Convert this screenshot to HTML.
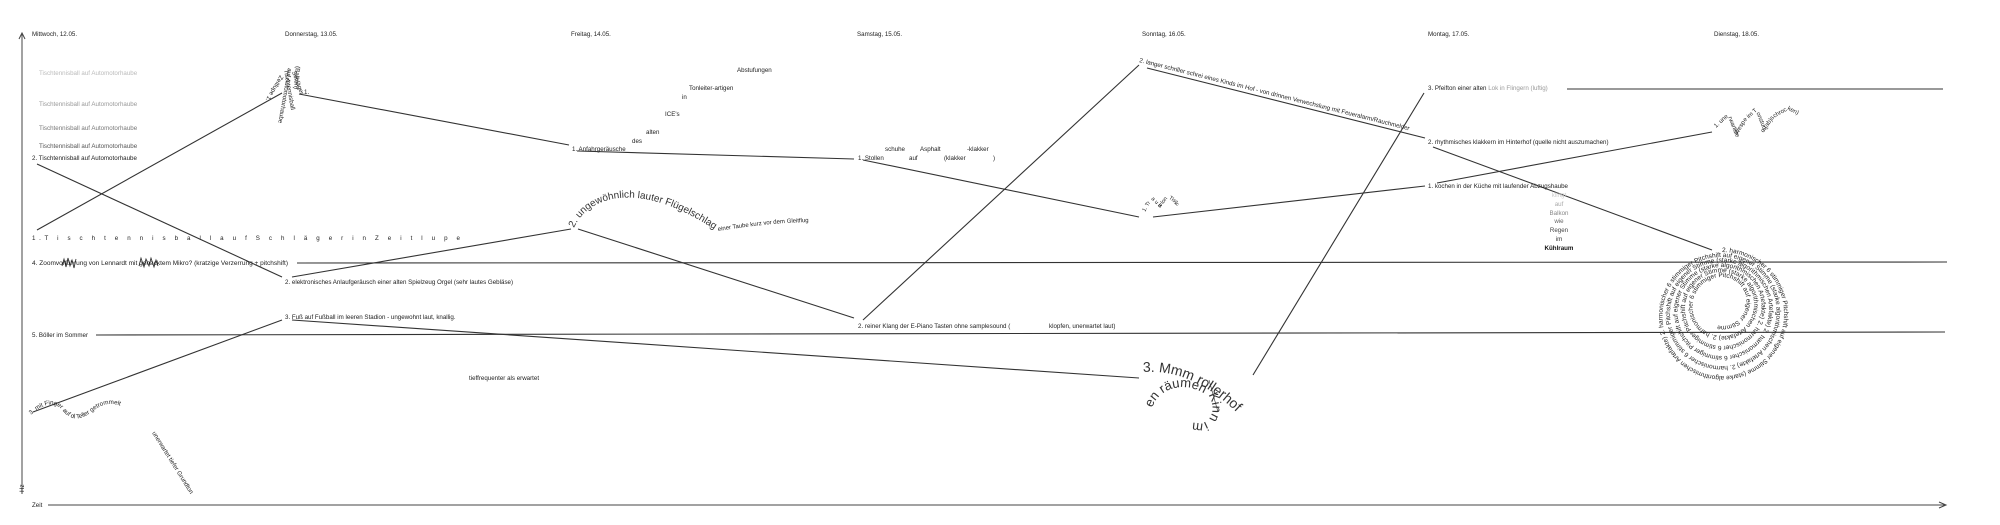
<!DOCTYPE html>
<html><head><meta charset="utf-8"><style>
html,body{margin:0;padding:0;background:#fff;}
svg{display:block;font-family:"Liberation Sans",sans-serif;}
text{font-size:6.2px;fill:#222;}
</style></head><body>
<svg width="2000" height="525" viewBox="0 0 2000 525" xmlns="http://www.w3.org/2000/svg">
<defs>
<path id="flug" d="M574,228 C588,196 640,178 718,232"/>
<path id="taube" d="M718,231 C750,226 780,222 818,222"/>
<path id="wespe" d="M1716,128 L1728,117 L1736,137 L1746,121 L1756,112 L1764,132 L1774,118 L1788,110 L1800,116 L1812,108 L1822,106"/>
<path id="tr" d="M1145,212 L1152,200 L1160,208 L1168,198 L1178,205 L1186,196 L1196,201 L1206,192"/>
<path id="mmm1" d="M1143,372 C1180,370 1215,385 1255,432"/>
<path id="mmm2" d="M1152,408 C1160,385 1190,380 1210,398 C1218,415 1205,430 1190,420"/>
<path id="finger" d="M31,415 C45,402 55,402 62,410 C72,422 80,420 92,412 C105,400 120,402 134,414"/>
<path id="spiral" d="M1722,252 A62,62 0 0 1 1722,376 A59.5,59.5 0 0 1 1722,257 A54.5,54.5 0 0 1 1722,366 A52,52 0 0 1 1722,262 A47,47 0 0 1 1722,356 A44.5,44.5 0 0 1 1722,267 A39.5,39.5 0 0 1 1722,346 A37,37 0 0 1 1722,272 A32,32 0 0 1 1722,336 A29.5,29.5 0 0 1 1722,277 A24.5,24.5 0 0 1 1722,326 A22,22 0 0 1 1722,282 A17,17 0 0 1 1722,316"/>
</defs>

<g stroke="#444" stroke-width="1" fill="none">
<line x1="22" y1="34" x2="22" y2="494"/>
<polyline points="19,39 22,33 25,39"/>
<line x1="48" y1="505" x2="1945" y2="505"/>
<polyline points="1939,502 1946,505 1939,508"/>
</g>
<text x="24" y="492" transform="rotate(-90 24 492)">Hz</text>
<text x="32" y="507">Zeit</text>

<text x="32" y="36">Mittwoch, 12.05.</text>
<text x="285" y="36">Donnerstag, 13.05.</text>
<text x="571" y="36">Freitag, 14.05.</text>
<text x="857" y="36">Samstag, 15.05.</text>
<text x="1142" y="36">Sonntag, 16.05.</text>
<text x="1428" y="36">Montag, 17.05.</text>
<text x="1714" y="36">Dienstag, 18.05.</text>

<text x="39" y="75" style="fill:#bbb">Tischtennisball auf Automotorhaube</text>
<text x="39" y="106" style="fill:#999">Tischtennisball auf Automotorhaube</text>
<text x="39" y="130" style="fill:#777">Tischtennisball auf Automotorhaube</text>
<text x="39" y="148" style="fill:#555">Tischtennisball auf Automotorhaube</text>
<text x="32" y="160">2. Tischtennisball auf Automotorhaube</text>
<text x="32" y="240" textLength="428" lengthAdjust="spacing">1.T i s c h t e n n i s b a l l       a u f   S c h l ä g e r   i n   Z e i t l u p e</text>
<text x="32" y="265" textLength="256" lengthAdjust="spacingAndGlyphs">4. Zoomvorführung von Lennardt mit gehacktem Mikro? (kratzige Verzerrung + pitchshift)</text>
<text x="32" y="337">5. Böller im Sommer</text>

<g stroke="#222" stroke-width="0.8" fill="none">
<polyline points="62,266 64,259 66,267 68,258 70,266 72,260 74,268 76,259"/>
<polyline points="139,266 141,258 144,267 146,259 149,266 151,258 154,267 156,260 158,266"/>
</g>

<g font-size="5.5">
<text x="284" y="70" transform="rotate(80 284 70)">Tischtennisball</text>
<text x="288" y="68" transform="rotate(100 288 68)">auf Automotorhaube</text>
<text x="292" y="72" transform="rotate(70 292 72)">Schläger</text>
<text x="280" y="75" transform="rotate(120 280 75)">Zeitlupe 1.</text>
<text x="296" y="66" transform="rotate(95 296 66)">(Balkon)</text>
<text x="304" y="94">1.</text>
</g>

<g stroke="#333" stroke-width="1.1" fill="none">
<line x1="37" y1="230" x2="282" y2="93"/>
<line x1="299" y1="94" x2="569" y2="145"/>
<line x1="37" y1="164" x2="282" y2="277"/>
<line x1="292" y1="277" x2="571" y2="229"/>
<line x1="578" y1="229" x2="854" y2="318"/>
<line x1="577" y1="151" x2="854" y2="159"/>
<line x1="863" y1="160" x2="1139" y2="217"/>
<line x1="863" y1="320" x2="1139" y2="65"/>
<line x1="1147" y1="68" x2="1425" y2="138"/>
<line x1="1153" y1="217" x2="1425" y2="186"/>
<line x1="1437" y1="183" x2="1712" y2="132"/>
<line x1="1433" y1="147" x2="1712" y2="250"/>
<line x1="1424" y1="93" x2="1253" y2="375"/>
<line x1="1567" y1="89" x2="1943" y2="89"/>
<line x1="297" y1="263" x2="1947" y2="262"/>
<line x1="96" y1="335" x2="1945" y2="332"/>
<line x1="292" y1="320" x2="1139" y2="378"/>
<line x1="282" y1="320" x2="33" y2="412"/>
</g>

<text x="285" y="284">2. elektronisches Anlaufgeräusch einer alten Spielzeug Orgel (sehr lautes Gebläse)</text>
<text x="285" y="319">3. Fuß auf Fußball im leeren Stadion - ungewohnt laut, knallig.</text>
<text font-size="6"><textPath href="#finger">3. mit Finger auf di Teller getrommelt</textPath></text>
<text x="152" y="433" transform="rotate(58 152 433)">unerwartet tiefer Grundton</text>
<text x="469" y="380">tieffrequenter als erwartet</text>

<text x="737" y="72">Abstufungen</text>
<text x="689" y="90">Tonleiter-artigen</text>
<text x="682" y="99">in</text>
<text x="665" y="116">ICE's</text>
<text x="646" y="134">alten</text>
<text x="632" y="143">des</text>
<text x="572" y="151">1. Anfahrgeräusche</text>
<text style="font-size:10px;fill:#333"><textPath href="#flug">2. ungewöhnlich lauter Flügelschlag</textPath></text>
<text style="font-size:6px"><textPath href="#taube">einer Taube kurz vor dem Gleitflug</textPath></text>

<text x="885" y="151">schuhe</text>
<text x="920" y="151">Asphalt</text>
<text x="967" y="151">-klakker</text>
<text x="858" y="160">1. Stollen</text>
<text x="909" y="160">auf</text>
<text x="944" y="160">(klakker</text>
<text x="993" y="160">)</text>
<text x="858" y="328">2. reiner Klang der E-Piano Tasten ohne samplesound (</text>
<text x="1049" y="328">klopfen, unerwartet laut)</text>

<text x="1139" y="62" transform="rotate(14.2 1139 62)">2. langer schriller schrei eines Kinds im Hof - von drinnen Verwechslung mit Feueralarm/Rauchmelder</text>
<text style="font-size:5.5px"><textPath href="#tr">1. Tr a u Ba lon Tisch</textPath></text>
<text style="font-size:14px;fill:#333"><textPath href="#mmm1">3. Mmm rollerhof</textPath></text>
<text style="font-size:13px;fill:#333"><textPath href="#mmm2">en räumen Kinn im</textPath></text>
<line x1="1209" y1="380" x2="1218" y2="412" stroke="#333" stroke-width="0.6"/>

<text x="1428" y="90">3. Pfeifton einer alten <tspan style="fill:#999">Lok in Flingern (luftig)</tspan></text>
<text x="1428" y="144">2. rhythmisches klakkern im Hinterhof (quelle nicht auszumachen)</text>
<text x="1428" y="188">1. kochen in der Küche mit laufender Abzugshaube</text>
<g text-anchor="middle">
<text x="1559" y="197" style="fill:#ccc">klingt</text>
<text x="1559" y="206" style="fill:#aaa">auf</text>
<text x="1559" y="215" style="fill:#888">Balkon</text>
<text x="1559" y="223" style="fill:#666">wie</text>
<text x="1559" y="232" style="fill:#444">Regen</text>
<text x="1559" y="241" style="fill:#333">im</text>
<text x="1559" y="250" style="fill:#111;font-weight:bold">Kühlraum</text>
</g>

<text style="font-size:6px"><textPath href="#wespe">1. unerwartete Wespe im Tonstudio (ab)schrocken)</textPath></text>
<text style="font-size:6.5px"><textPath href="#spiral">2. harmonischer 6 stimmiger Pitchshift auf eigener Stimme (starke algorithmischen Artefakte) 2. harmonischer 6 stimmiger Pitchshift auf eigener Stimme (starke algorithmischen Artefakte) 2. harmonischer 6 stimmiger Pitchshift auf eigener Stimme (starke algorithmischen Artefakte) 2. harmonischer 6 stimmiger Pitchshift auf eigener Stimme (starke algorithmischen Artefakte) 2. harmonischer 6 stimmiger Pitchshift auf eigener Stimme (starke algorithmischen Artefakte) 2. harmonischer 6 stimmiger Pitchshift auf eigener Stimme</textPath></text>
</svg>
</body></html>
